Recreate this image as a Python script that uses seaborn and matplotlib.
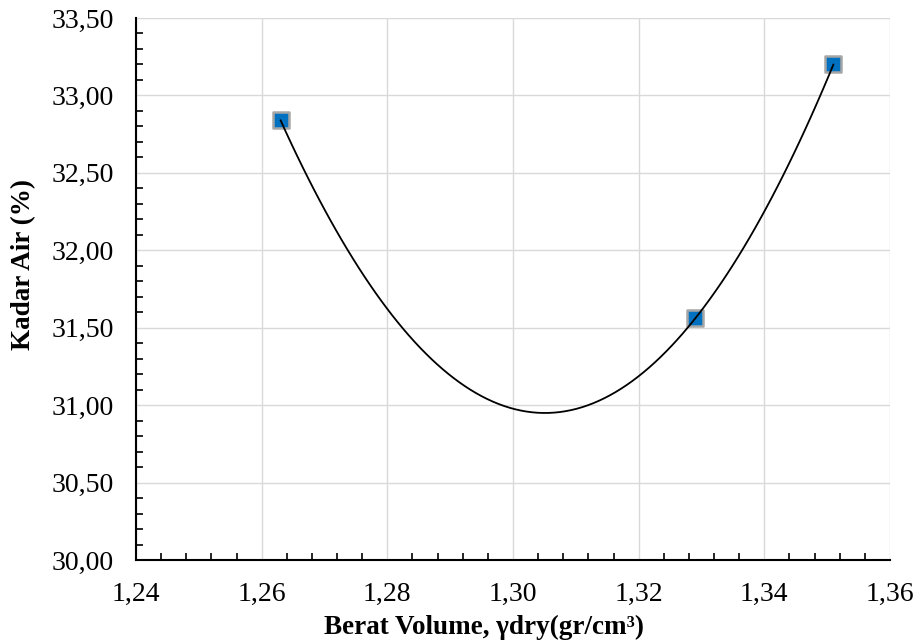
"""
Kurva pemadatan: kadar air vs berat volume kering, dengan trendline polinomial orde 2.
"""

import matplotlib
matplotlib.use("Agg")
import matplotlib.pyplot as plt
from matplotlib.ticker import FuncFormatter, AutoMinorLocator
import pandas as pd
import seaborn as sns

# -----------------------------------------------------------------------------
# Data
# -----------------------------------------------------------------------------
berat_volume = [1.263, 1.329, 1.351]     # gamma dry, gr/cm3
kadar_air = [32.84, 31.56, 33.20]        # %

x_ticks = [1.24, 1.26, 1.28, 1.30, 1.32, 1.34, 1.36]
y_ticks = [30.00, 30.50, 31.00, 31.50, 32.00, 32.50, 33.00, 33.50]

X_LABEL = "Berat Volume, γdry(gr/cm³)"
Y_LABEL = "Kadar Air (%)"

W, H = 919, 644


def comma_fmt(v, _pos):
    return f"{v:.2f}".replace(".", ",")


def main() -> None:
    sns.set_theme(style="white")
    plt.rcParams["font.family"] = ["Liberation Serif", "DejaVu Serif"]
    plt.rcParams["text.color"] = "black"

    df = pd.DataFrame({"x": berat_volume, "y": kadar_air})

    fig = plt.figure(figsize=(W / 100, H / 100), dpi=100)
    ax = fig.add_axes([136 / W, (H - 560) / H, (890 - 136) / W, (560 - 18) / H])

    sns.scatterplot(
        data=df, x="x", y="y", ax=ax, marker="s", s=120,
        color="#0070C0", edgecolor="#A6A6A6", linewidth=1.8, zorder=3,
    )
    # Excel-style polynomial (order 2) trendline
    sns.regplot(
        data=df, x="x", y="y", ax=ax, order=2, ci=None, scatter=False,
        truncate=True, line_kws={"color": "black", "linewidth": 1.3, "zorder": 4},
    )

    ax.set_xlim(x_ticks[0], x_ticks[-1])
    ax.set_ylim(y_ticks[0], y_ticks[-1])
    ax.set_xticks(x_ticks)
    ax.set_yticks(y_ticks)
    ax.xaxis.set_minor_locator(AutoMinorLocator(5))
    ax.yaxis.set_minor_locator(AutoMinorLocator(5))
    ax.xaxis.set_major_formatter(FuncFormatter(comma_fmt))
    ax.yaxis.set_major_formatter(FuncFormatter(comma_fmt))

    ax.grid(True, which="major", color="#D9D9D9", linewidth=1.0)
    ax.set_axisbelow(True)
    for side in ("top", "right"):
        ax.spines[side].set_visible(False)
    for side in ("left", "bottom"):
        ax.spines[side].set_color("black")
        ax.spines[side].set_linewidth(1.5)

    ax.tick_params(which="major", direction="inout", length=10, width=1.5,
                   color="black", labelsize=20, labelcolor="black")
    ax.tick_params(axis="x", which="major", pad=11)
    ax.tick_params(axis="y", which="major", pad=11)
    ax.tick_params(which="minor", direction="in", length=5, width=1.2,
                   color="black", bottom=True, left=True)

    ax.set_xlabel("")
    ax.set_ylabel("")
    fig.text(484 / W, 1 - 627 / H, X_LABEL, ha="center", va="center",
             fontsize=19.5, fontweight="bold", color="black")
    fig.text(24 / W, 1 - 264 / H, Y_LABEL, ha="center", va="center",
             rotation=90, fontsize=19.5, fontweight="bold", color="black")

    fig.savefig("out.png", dpi=100)
    plt.close(fig)


if __name__ == "__main__":
    main()
